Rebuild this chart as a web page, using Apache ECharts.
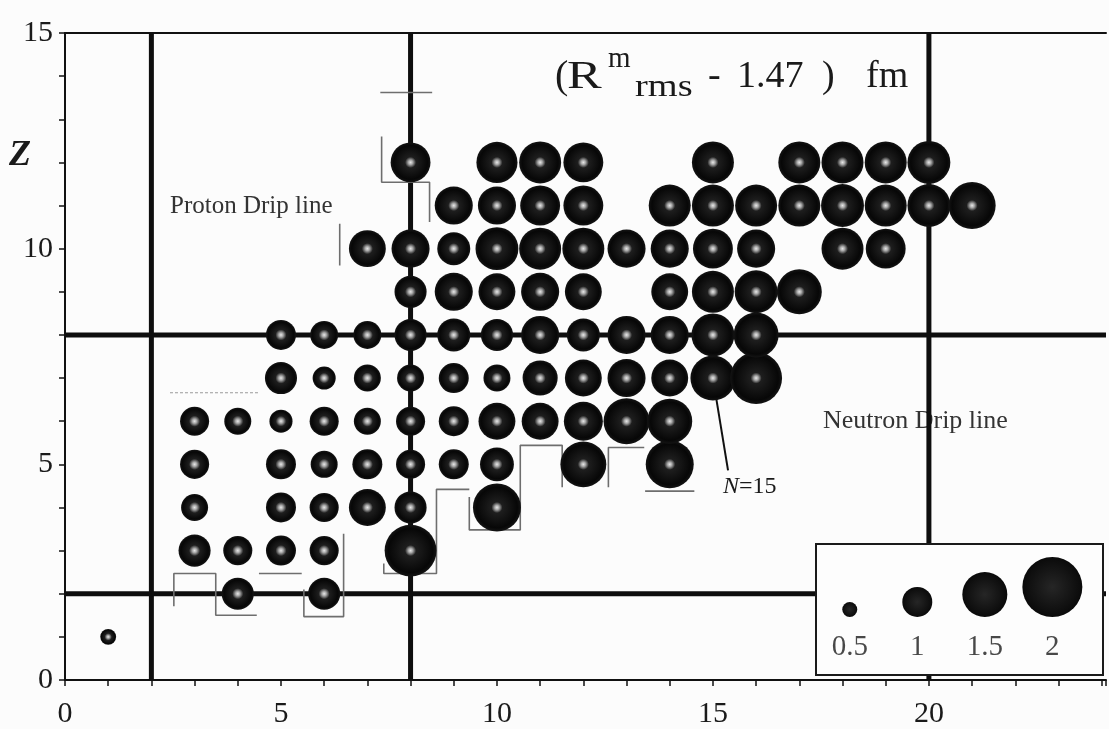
<!DOCTYPE html>
<html><head><meta charset="utf-8">
<script src="https://cdn.jsdelivr.net/npm/echarts@6/dist/echarts.min.js"></script>
<style>html,body{margin:0;padding:0;background:#fcfcfc}#c{width:1109px;height:729px}</style>
</head><body><div id="c"></div>
<script>
// Each row: proton number Z, neutron numbers N and bubble value (R_rms^m - 1.47) fm
const z1N = [1];                                  const z1R = [0.53];
const z2N = [4, 6];                               const z2R = [1.07, 1.07];
const z3N = [3, 4, 5, 6, 8];                      const z3R = [1.07, 0.97, 1.0, 0.97, 1.73];
const z4N = [3, 5, 6, 7, 8, 10];                  const z4R = [0.9, 1.0, 0.97, 1.23, 1.07, 1.6];
const z5N = [3, 5, 6, 7, 8, 9, 10, 12, 14];       const z5R = [0.97, 1.0, 0.9, 1.0, 0.97, 1.0, 1.13, 1.53, 1.6];
const z6N = [3, 4, 5, 6, 7, 8, 9, 10, 11, 12, 13, 14];
const z6R = [0.97, 0.9, 0.77, 0.97, 0.9, 0.97, 1.0, 1.23, 1.23, 1.3, 1.53, 1.5];
const z7N = [5, 6, 7, 8, 9, 10, 11, 12, 13, 14, 15, 16];
const z7R = [1.07, 0.77, 0.9, 0.9, 1.0, 0.9, 1.17, 1.23, 1.27, 1.23, 1.5, 1.73];
const z8N = [5, 6, 7, 8, 9, 10, 11, 12, 13, 14, 15, 16];
const z8R = [1.0, 0.93, 0.93, 1.07, 1.1, 1.07, 1.27, 1.1, 1.27, 1.27, 1.43, 1.5];
const z9N = [8, 9, 10, 11, 12, 14, 15, 16, 17];
const z9R = [1.07, 1.27, 1.23, 1.27, 1.23, 1.23, 1.4, 1.43, 1.5];
const z10N = [7, 8, 9, 10, 11, 12, 13, 14, 15, 16, 18, 19];
const z10R = [1.23, 1.27, 1.1, 1.43, 1.4, 1.4, 1.27, 1.27, 1.33, 1.27, 1.4, 1.33];
const z11N = [9, 10, 11, 12, 14, 15, 16, 17, 18, 19, 20, 21];
const z11R = [1.27, 1.27, 1.33, 1.33, 1.4, 1.4, 1.4, 1.4, 1.43, 1.4, 1.43, 1.57];
const z12N = [8, 10, 11, 12, 15, 17, 18, 19, 20];
const z12R = [1.33, 1.37, 1.4, 1.33, 1.4, 1.4, 1.4, 1.4, 1.43];

const magicN = [2, 8, 20];
const magicZ = [2, 8];
const xTickLabels = [0, 5, 10, 15, 20];
const yTickLabels = [0, 5, 10, 15];

const legendValues = [0.5, 1, 1.5, 2];
const legendLabels = ['0.5', '1', '1.5', '2'];

const protonDrip = [
  [[7.3, 13.62], [8.5, 13.62]],
  [[7.33, 12.6], [7.33, 11.54], [8.44, 11.54], [8.44, 10.62]],
  [[6.36, 10.58], [6.36, 9.61]],
  [[2.52, 1.71], [2.52, 2.47], [3.49, 2.47], [3.49, 1.5], [4.44, 1.5]],
  [[4.49, 2.47], [5.48, 2.47]],
  [[5.53, 2.1], [5.53, 1.47], [6.45, 1.47], [6.45, 3.39]]
];
const protonDripFaint = [[2.43, 6.66], [4.5, 6.66]];
const neutronDrip = [
  [[7.38, 2.7], [7.38, 2.47], [8.6, 2.47], [8.6, 4.42], [9.36, 4.42]],
  [[9.36, 4.24], [9.36, 3.48], [10.54, 3.48], [10.54, 5.44], [11.51, 5.44], [11.51, 4.47]],
  [[12.58, 4.47], [12.58, 5.39], [13.41, 5.39]],
  [[13.43, 4.38], [14.57, 4.38]]
];
const n15Leader = [[15, 7], [15.35, 4.86]];

// ---------------------------------------------------------------
const rows = [
  [1, z1N, z1R], [2, z2N, z2R], [3, z3N, z3R], [4, z4N, z4R], [5, z5N, z5R], [6, z6N, z6R],
  [7, z7N, z7R], [8, z8N, z8R], [9, z9N, z9R], [10, z10N, z10R], [11, z11N, z11R], [12, z12N, z12R]
];
const SCALE = 30; // px diameter per fm
function ballColor(v) {
  const r = v * SCALE / 2;
  const g = Math.min(0.45, 5.5 / r);
  return { type: 'radial', x: 0.5, y: 0.5, r: 0.5, colorStops: [
    { offset: 0, color: '#e8e8e8' },
    { offset: g * 0.4, color: '#a8a8a8' },
    { offset: g, color: '#1e1e1e' },
    { offset: 0.85, color: '#070707' },
    { offset: 1, color: '#141414' }
  ]};
}
const bubbleData = [];
rows.forEach(([z, ns, rs]) => ns.forEach((n, i) => {
  bubbleData.push({ value: [n, z, rs[i]], itemStyle: { color: ballColor(rs[i]), opacity: 1 } });
}));

const XMAX = 24.1;
const serif = 'Liberation Serif';
const series = [];
magicN.forEach(n => series.push({
  type: 'line', data: [[n, 0], [n, 15]], symbol: 'none', z: 2, silent: true,
  lineStyle: { color: '#0e0e0e', width: 5 }
}));
magicZ.forEach(z => series.push({
  type: 'line', data: [[0, z], [XMAX, z]], symbol: 'none', z: 2, silent: true,
  lineStyle: { color: '#0e0e0e', width: 5 }
}));
protonDrip.concat(neutronDrip).forEach(seg => series.push({
  type: 'line', data: seg, symbol: 'none', z: 3, silent: true,
  lineStyle: { color: '#6e6e6e', width: 1.6 }
}));
series.push({
  type: 'line', data: protonDripFaint, symbol: 'none', z: 3, silent: true,
  lineStyle: { color: '#999', width: 1.2, type: [3, 2] }
});
series.push({
  type: 'line', data: n15Leader, symbol: 'none', z: 3, silent: true,
  lineStyle: { color: '#111', width: 2 }
});
series.push({
  type: 'scatter', data: bubbleData, z: 4, symbol: 'circle',
  itemStyle: { opacity: 1 },
  symbolSize: v => v[2] * SCALE
});
// legend
series.push({
  type: 'scatter', xAxisIndex: 2, yAxisIndex: 1, z: 60,
  data: legendValues.map((v, i) => ({ value: [i, 0.443, v], symbolOffset: [0, -v * SCALE / 2] })),
  symbolSize: v => v[2] * SCALE,
  itemStyle: { opacity: 1, color: { type: 'radial', x: 0.5, y: 0.5, r: 0.5, colorStops: [
    { offset: 0, color: '#262626' }, { offset: 1, color: '#0a0a0a' } ] } }
});
series.push({
  type: 'scatter', xAxisIndex: 2, yAxisIndex: 1, z: 60, symbolSize: 0,
  data: legendLabels.map((t, i) => [i, 0.214]),
  label: { show: true, position: 'inside', formatter: p => legendLabels[p.dataIndex],
    fontFamily: serif, fontSize: 29, color: '#1a1a1a' }
});

function txt(text, x, baseline, size, extra, el) {
  return Object.assign({
    type: 'text', z: 10, silent: true,
    style: Object.assign({ text: text, x: x, y: baseline - 0.34 * size,
      font: size + 'px "' + serif + '"', fill: '#1a1a1a', verticalAlign: 'middle', align: 'left' }, extra || {})
  }, el || {});
}

const chart = echarts.init(document.getElementById('c'), null, { renderer: 'canvas' });
chart.setOption({
  animation: false,
  backgroundColor: '#fcfcfc',
  grid: [
    { left: 65, right: 2, top: 33, bottom: 45 },
    { left: 816, top: 544, width: 287, height: 131 }
  ],
  xAxis: [
    { type: 'value', gridIndex: 0, min: 0, max: XMAX, interval: 1, position: 'bottom',
      axisLine: { lineStyle: { color: '#111', width: 2 } },
      axisTick: { length: 6, lineStyle: { color: '#111', width: 1.5 } },
      splitLine: { show: false },
      axisLabel: { margin: 19, fontFamily: serif, fontSize: 30, color: '#1a1a1a',
        formatter: v => xTickLabels.indexOf(v) >= 0 ? String(v) : '' } },
    { type: 'value', gridIndex: 0, min: 0, max: XMAX, position: 'top',
      axisLine: { lineStyle: { color: '#111', width: 2 } },
      axisTick: { show: false }, axisLabel: { show: false }, splitLine: { show: false } },
    { type: 'value', gridIndex: 1, min: -0.5, max: 3.75, show: false }
  ],
  yAxis: [
    { type: 'value', gridIndex: 0, min: 0, max: 15, interval: 1,
      axisLine: { lineStyle: { color: '#111', width: 2 } },
      axisTick: { length: 6, lineStyle: { color: '#111', width: 1.5 } },
      splitLine: { show: false },
      axisLabel: { margin: 12, fontFamily: serif, fontSize: 30, color: '#1a1a1a',
        formatter: v => yTickLabels.indexOf(v) >= 0 ? String(v) : '' } },
    { type: 'value', gridIndex: 1, min: 0, max: 1, show: false }
  ],
  graphic: [
    { type: 'rect', z: 50, silent: true, shape: { x: 816, y: 544, width: 287, height: 131 },
      style: { fill: '#fdfdfd', stroke: '#1a1a1a', lineWidth: 2 } },
    txt('Z', 9, 168, 36, { font: 'italic bold 36px "' + serif + '"' }),
    txt('(', 555, 91, 40),
    txt('R', 567, 91, 40, null, { scaleX: 1.3, originX: 567, originY: 77 }),
    txt('m', 608, 69, 29),
    txt('rms', 635, 98, 32, null, { scaleX: 1.2, originX: 635, originY: 88 }),
    txt('-', 708, 90, 38),
    txt('1.47', 737, 90, 38),
    txt(')', 822, 90, 38),
    txt('fm', 866, 90, 38),
    txt('Proton Drip line', 170, 215, 25, { fill: '#333' }, { z: 1 }),
    txt('Neutron Drip line', 823, 430, 26, { fill: '#333' }, { z: 1 }),
    { type: 'text', z: 10, silent: true, style: {
        text: '{i|N}=15', x: 723, y: 495 - 0.34 * 24, verticalAlign: 'middle',
        font: '24px "' + serif + '"', fill: '#1a1a1a',
        rich: { i: { fontStyle: 'italic', fontFamily: serif, fontSize: 24, fill: '#1a1a1a' } } } }
  ],
  series: series
});
</script></body></html>
